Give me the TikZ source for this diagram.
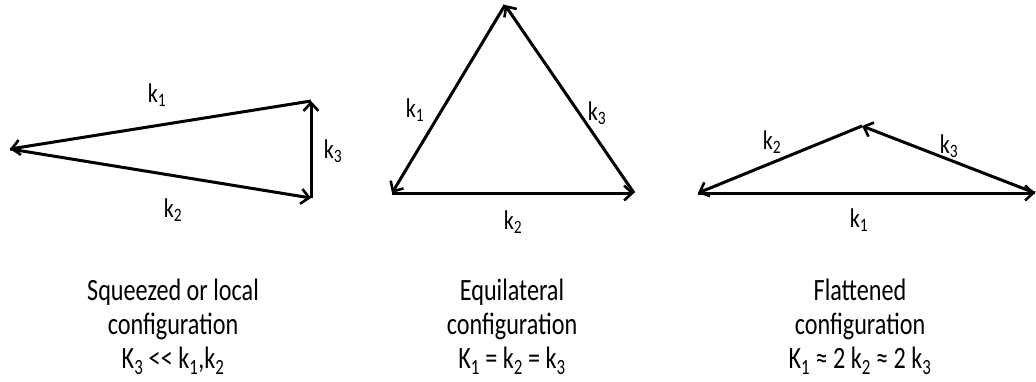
\documentclass[tikz,border=0pt]{standalone}
\usepackage{fontspec}
\setmainfont{Carlito}
\usetikzlibrary{arrows.meta}
\tikzset{
  vec/.style={line width=3pt, -{Straight Barb[length=8pt,width=15pt,line width=2.6pt]}},
  klabel/.style={font=\fontsize{27}{29}\selectfont, inner sep=0pt, xscale=0.82, transform shape},
  captext/.style={font=\fontsize{31}{34}\selectfont, align=center, inner sep=0pt, xscale=0.78, transform shape}
}
\newcommand{\kk}[2]{#1\textsubscript{#2}}
\begin{document}
\begin{tikzpicture}[x=1pt,y=-1pt]
\useasboundingbox (0,0) rectangle (1036,381);
% Squeezed
\coordinate (a1) at (10,149);
\coordinate (a2) at (311,101);
\coordinate (a3) at (311,198);
\draw[vec] (a2) -- (a1);
\draw[vec] (a1) -- (a3);
\draw[vec] (a3) -- (a2);
\node[klabel] (la1) at (157,95) {\kk{k}{1}};
\node[klabel] (la2) at (173,210) {\kk{k}{2}};
\node[klabel] (la3) at (333,151) {\kk{k}{3}};
% Equilateral
\coordinate (b1) at (505,5);
\coordinate (b2) at (392,193);
\coordinate (b3) at (634,193);
\draw[vec] (b1) -- (b2);
\draw[vec] (b2) -- (b3);
\draw[vec] (b3) -- (b1);
\node[klabel] (lb1) at (415,110) {\kk{k}{1}};
\node[klabel] (lb2) at (513,222) {\kk{k}{2}};
\node[klabel] (lb3) at (597,113) {\kk{k}{3}};
% Flattened
\coordinate (c1) at (698,193);
\coordinate (c2) at (862,126);
\coordinate (c3) at (1035,193);
\draw[vec] (c1) -- (c3);
\draw[vec] (c3) -- (c2);
\draw[vec] (c2) -- (c1);
\node[klabel] (lc1) at (859,220) {\kk{k}{1}};
\node[klabel] (lc2) at (772,142) {\kk{k}{2}};
\node[klabel] (lc3) at (949,146) {\kk{k}{3}};
% captions
\node[captext] (t1) at (173,327) {Squeezed or local\\configuration\\\kk{K}{3} {<}{<} \kk{k}{1},\kk{k}{2}};
\node[captext] (t2) at (512,327) {Equilateral\\configuration\\\kk{K}{1} = \kk{k}{2} = \kk{k}{3}};
\node[captext] (t3) at (860,327) {Flattened\\configuration\\\kk{K}{1} ≈ 2 \kk{k}{2} ≈ 2 \kk{k}{3}};
\end{tikzpicture}
\end{document}
